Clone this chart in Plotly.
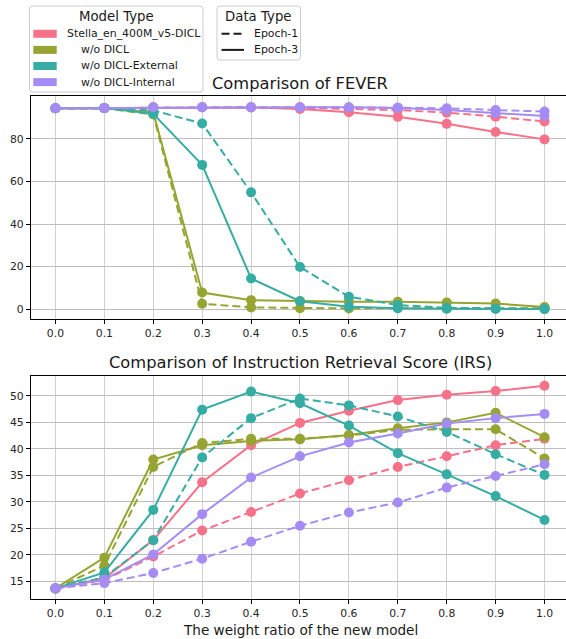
import plotly.graph_objects as go

# ---------------- data ----------------
x_ratio = [0.0, 0.1, 0.2, 0.3, 0.4, 0.5, 0.6, 0.7, 0.8, 0.9, 1.0]
x_ticks = [0.0, 0.1, 0.2, 0.3, 0.4, 0.5, 0.6, 0.7, 0.8, 0.9, 1.0]
x_tick_labels = ["0.0", "0.1", "0.2", "0.3", "0.4", "0.5", "0.6", "0.7", "0.8", "0.9", "1.0"]

models = ["Stella_en_400M_v5-DICL", "w/o DICL", "w/o DICL-External", "w/o DICL-Internal"]
data_types = ["Epoch-1", "Epoch-3"]

# FEVER
fever_stella_e1 = [94.4, 94.5, 94.8, 94.9, 94.9, 94.6, 94.2, 93.6, 92.4, 90.5, 88.2]
fever_stella_e3 = [94.4, 94.5, 94.8, 94.9, 94.8, 94.1, 92.6, 90.4, 87.1, 83.3, 79.8]
fever_wo_e1 = [94.4, 94.4, 91.5, 2.5, 0.8, 0.4, 0.3, 0.4, 0.3, 0.3, 0.4]
fever_wo_e3 = [94.4, 94.5, 92.5, 7.8, 4.2, 3.8, 3.5, 3.5, 3.1, 2.6, 1.0]
fever_ext_e1 = [94.4, 94.5, 93.4, 87.3, 54.9, 19.8, 5.8, 1.9, 0.6, 0.3, 0.1]
fever_ext_e3 = [94.4, 94.5, 91.8, 67.8, 14.4, 3.7, 1.1, 0.4, 0.2, 0.1, 0.0]
fever_int_e1 = [94.4, 94.5, 94.9, 94.9, 94.9, 94.9, 94.9, 94.8, 94.4, 93.6, 92.9]
fever_int_e3 = [94.4, 94.5, 94.9, 94.9, 94.9, 94.9, 94.9, 94.6, 93.6, 92.1, 90.8]

# IRS
irs_stella_e1 = [13.7, 15.3, 19.7, 24.6, 28.1, 31.6, 34.1, 36.6, 38.6, 40.7, 41.9]
irs_stella_e3 = [13.7, 15.6, 22.8, 33.7, 40.7, 44.9, 47.2, 49.2, 50.2, 50.9, 51.9]
irs_wo_e1 = [13.7, 18.0, 36.6, 41.1, 41.9, 41.9, 42.5, 43.6, 43.7, 43.7, 38.2]
irs_wo_e3 = [13.7, 19.5, 38.0, 40.7, 41.5, 41.8, 42.6, 43.9, 45.0, 46.8, 42.2]
irs_ext_e1 = [13.7, 15.8, 22.8, 38.4, 45.8, 49.5, 48.2, 46.1, 43.2, 39.0, 35.1]
irs_ext_e3 = [13.7, 16.7, 28.5, 47.4, 50.8, 48.6, 44.4, 39.2, 35.2, 31.1, 26.6]
irs_int_e1 = [13.7, 14.7, 16.6, 19.3, 22.5, 25.5, 28.0, 29.9, 32.7, 34.9, 37.1]
irs_int_e3 = [13.7, 15.4, 20.1, 27.7, 34.6, 38.6, 41.2, 42.9, 44.8, 45.8, 46.6]

fever_ticks = [0, 20, 40, 60, 80]
irs_ticks = [15, 20, 25, 30, 35, 40, 45, 50]

fever_series = {
    models[0]: (fever_stella_e1, fever_stella_e3),
    models[1]: (fever_wo_e1, fever_wo_e3),
    models[2]: (fever_ext_e1, fever_ext_e3),
    models[3]: (fever_int_e1, fever_int_e3),
}
irs_series = {
    models[0]: (irs_stella_e1, irs_stella_e3),
    models[1]: (irs_wo_e1, irs_wo_e3),
    models[2]: (irs_ext_e1, irs_ext_e3),
    models[3]: (irs_int_e1, irs_int_e3),
}

# ---------------- style ----------------
colors = ["#f77189", "#97a431", "#36ada4", "#a48cf4"]
FONT = "DejaVu Sans"
W, H = 566, 639
L, R, T, B = 31, 566, 96, 599
PW, PH = R - L, B - T


def px(x):
    return (x - L) / PW


def py(y):
    return (B - y) / PH


fig = go.Figure()

for (series, xa, ya) in [(fever_series, "x", "y"), (irs_series, "x2", "y2")]:
    for mi, m in enumerate(models):
        e1, e3 = series[m]
        for vals, dash, dt in [(e1, "8px,4px", data_types[0]), (e3, "solid", data_types[1])]:
            fig.add_trace(go.Scatter(
                x=x_ratio, y=vals, mode="lines+markers",
                line=dict(color=colors[mi], width=2, dash=dash),
                marker=dict(color=colors[mi], size=10),
                name=f"{m} ({dt})", showlegend=False,
                xaxis=xa, yaxis=ya, hoverinfo="skip",
            ))

top_dom = [py(319.3), 1.0]
bot_dom = [0.0, py(375.7)]

axis_common = dict(
    showgrid=True, gridwidth=1, zeroline=False, automargin=False,
    showline=True, linecolor="#000000", linewidth=1.2,
    ticks="outside", ticklen=4, tickwidth=1, tickcolor="#000000",
    tickfont=dict(family=FONT, size=10.8, color="#262626"),
)

fig.update_layout(
    width=W, height=H,
    margin=dict(l=L, r=W - R, t=T, b=H - B, pad=0, autoexpand=False),
    paper_bgcolor="white", plot_bgcolor="white",
    showlegend=False,
    font=dict(family=FONT, color="#1a1a1a"),
    xaxis=dict(domain=[0, 1], anchor="y", range=[-0.05, 1.0439], tickvals=x_ticks,
               ticktext=x_tick_labels, mirror=True, gridcolor="#d0d0d0", **axis_common),
    yaxis=dict(domain=top_dom, anchor="x", range=[-4.8, 100.2], tickvals=fever_ticks,
               gridcolor="#bdbdbd", **axis_common),
    xaxis2=dict(domain=[0, 1], anchor="y2", range=[-0.05, 1.0439], tickvals=x_ticks,
                ticktext=x_tick_labels, mirror=True, gridcolor="#d0d0d0", **axis_common),
    yaxis2=dict(domain=bot_dom, anchor="x2", range=[11.7, 53.8], tickvals=irs_ticks,
                gridcolor="#bdbdbd", **axis_common),
)

# titles and axis label
fig.add_annotation(text="Comparison of FEVER", x=px(300), y=py(83), xref="paper", yref="paper",
                   showarrow=False, font=dict(family=FONT, size=16.3, color="#1a1a1a"),
                   xanchor="center", yanchor="middle")
fig.add_annotation(text="Comparison of Instruction Retrieval Score (IRS)", x=px(300), y=py(362),
                   xref="paper", yref="paper", showarrow=False,
                   font=dict(family=FONT, size=16.3, color="#1a1a1a"),
                   xanchor="center", yanchor="middle")
fig.add_annotation(text="The weight ratio of the new model", x=px(300), y=py(630),
                   xref="paper", yref="paper", showarrow=False,
                   font=dict(family=FONT, size=13.6, color="#1a1a1a"),
                   xanchor="center", yanchor="middle")


# ---------------- legends (drawn as shapes + text) ----------------
def rounded_box(x0, y0, x1, y1, r=3):
    X = lambda v: px(v)
    Y = lambda v: py(v)
    p = (f"M {X(x0 + r)},{Y(y0)} L {X(x1 - r)},{Y(y0)} Q {X(x1)},{Y(y0)} {X(x1)},{Y(y0 + r)} "
         f"L {X(x1)},{Y(y1 - r)} Q {X(x1)},{Y(y1)} {X(x1 - r)},{Y(y1)} "
         f"L {X(x0 + r)},{Y(y1)} Q {X(x0)},{Y(y1)} {X(x0)},{Y(y1 - r)} "
         f"L {X(x0)},{Y(y0 + r)} Q {X(x0)},{Y(y0)} {X(x0 + r)},{Y(y0)} Z")
    fig.add_shape(type="path", path=p, xref="paper", yref="paper",
                  fillcolor="rgba(255,255,255,0.85)", line=dict(color="#cccccc", width=1))


rounded_box(29.5, 6, 203, 92)
rounded_box(217, 6, 300.5, 60)

fig.add_annotation(text="Model Type", x=px(116.5), y=py(16.5), xref="paper", yref="paper",
                   showarrow=False, font=dict(family=FONT, size=13.3, color="#1a1a1a"),
                   xanchor="center", yanchor="middle")
fig.add_annotation(text="Data Type", x=px(258.5), y=py(16.5), xref="paper", yref="paper",
                   showarrow=False, font=dict(family=FONT, size=13.3, color="#1a1a1a"),
                   xanchor="center", yanchor="middle")

row_y = [33.8, 49.9, 66.0, 82.1]
text_x = [65, 79, 79, 79]
for i, m in enumerate(models):
    cy = row_y[i]
    fig.add_shape(type="rect", x0=px(33.3), x1=px(56.7), y0=py(cy - 4), y1=py(cy + 4),
                  xref="paper", yref="paper", fillcolor=colors[i], line=dict(width=0))
    fig.add_annotation(text=m, x=px(text_x[i]), y=py(cy), xref="paper", yref="paper",
                       showarrow=False, font=dict(family=FONT, size=10.9, color="#1a1a1a"),
                       xanchor="left", yanchor="middle")

for i, (dt, dash) in enumerate([(data_types[0], "8px,4px"), (data_types[1], "solid")]):
    cy = row_y[i]
    fig.add_shape(type="line", x0=px(221.5), x1=px(244), y0=py(cy), y1=py(cy),
                  xref="paper", yref="paper", line=dict(color="#1a1a1a", width=2, dash=dash))
    fig.add_annotation(text=dt, x=px(252.3), y=py(cy), xref="paper", yref="paper",
                       showarrow=False, font=dict(family=FONT, size=10.9, color="#1a1a1a"),
                       xanchor="left", yanchor="middle")

fig.write_html(
    "out.html",
    config={"displayModeBar": False},
    post_script="document.body.style.margin='0';document.body.style.padding='0';"
                "document.body.style.overflow='hidden';",
)
